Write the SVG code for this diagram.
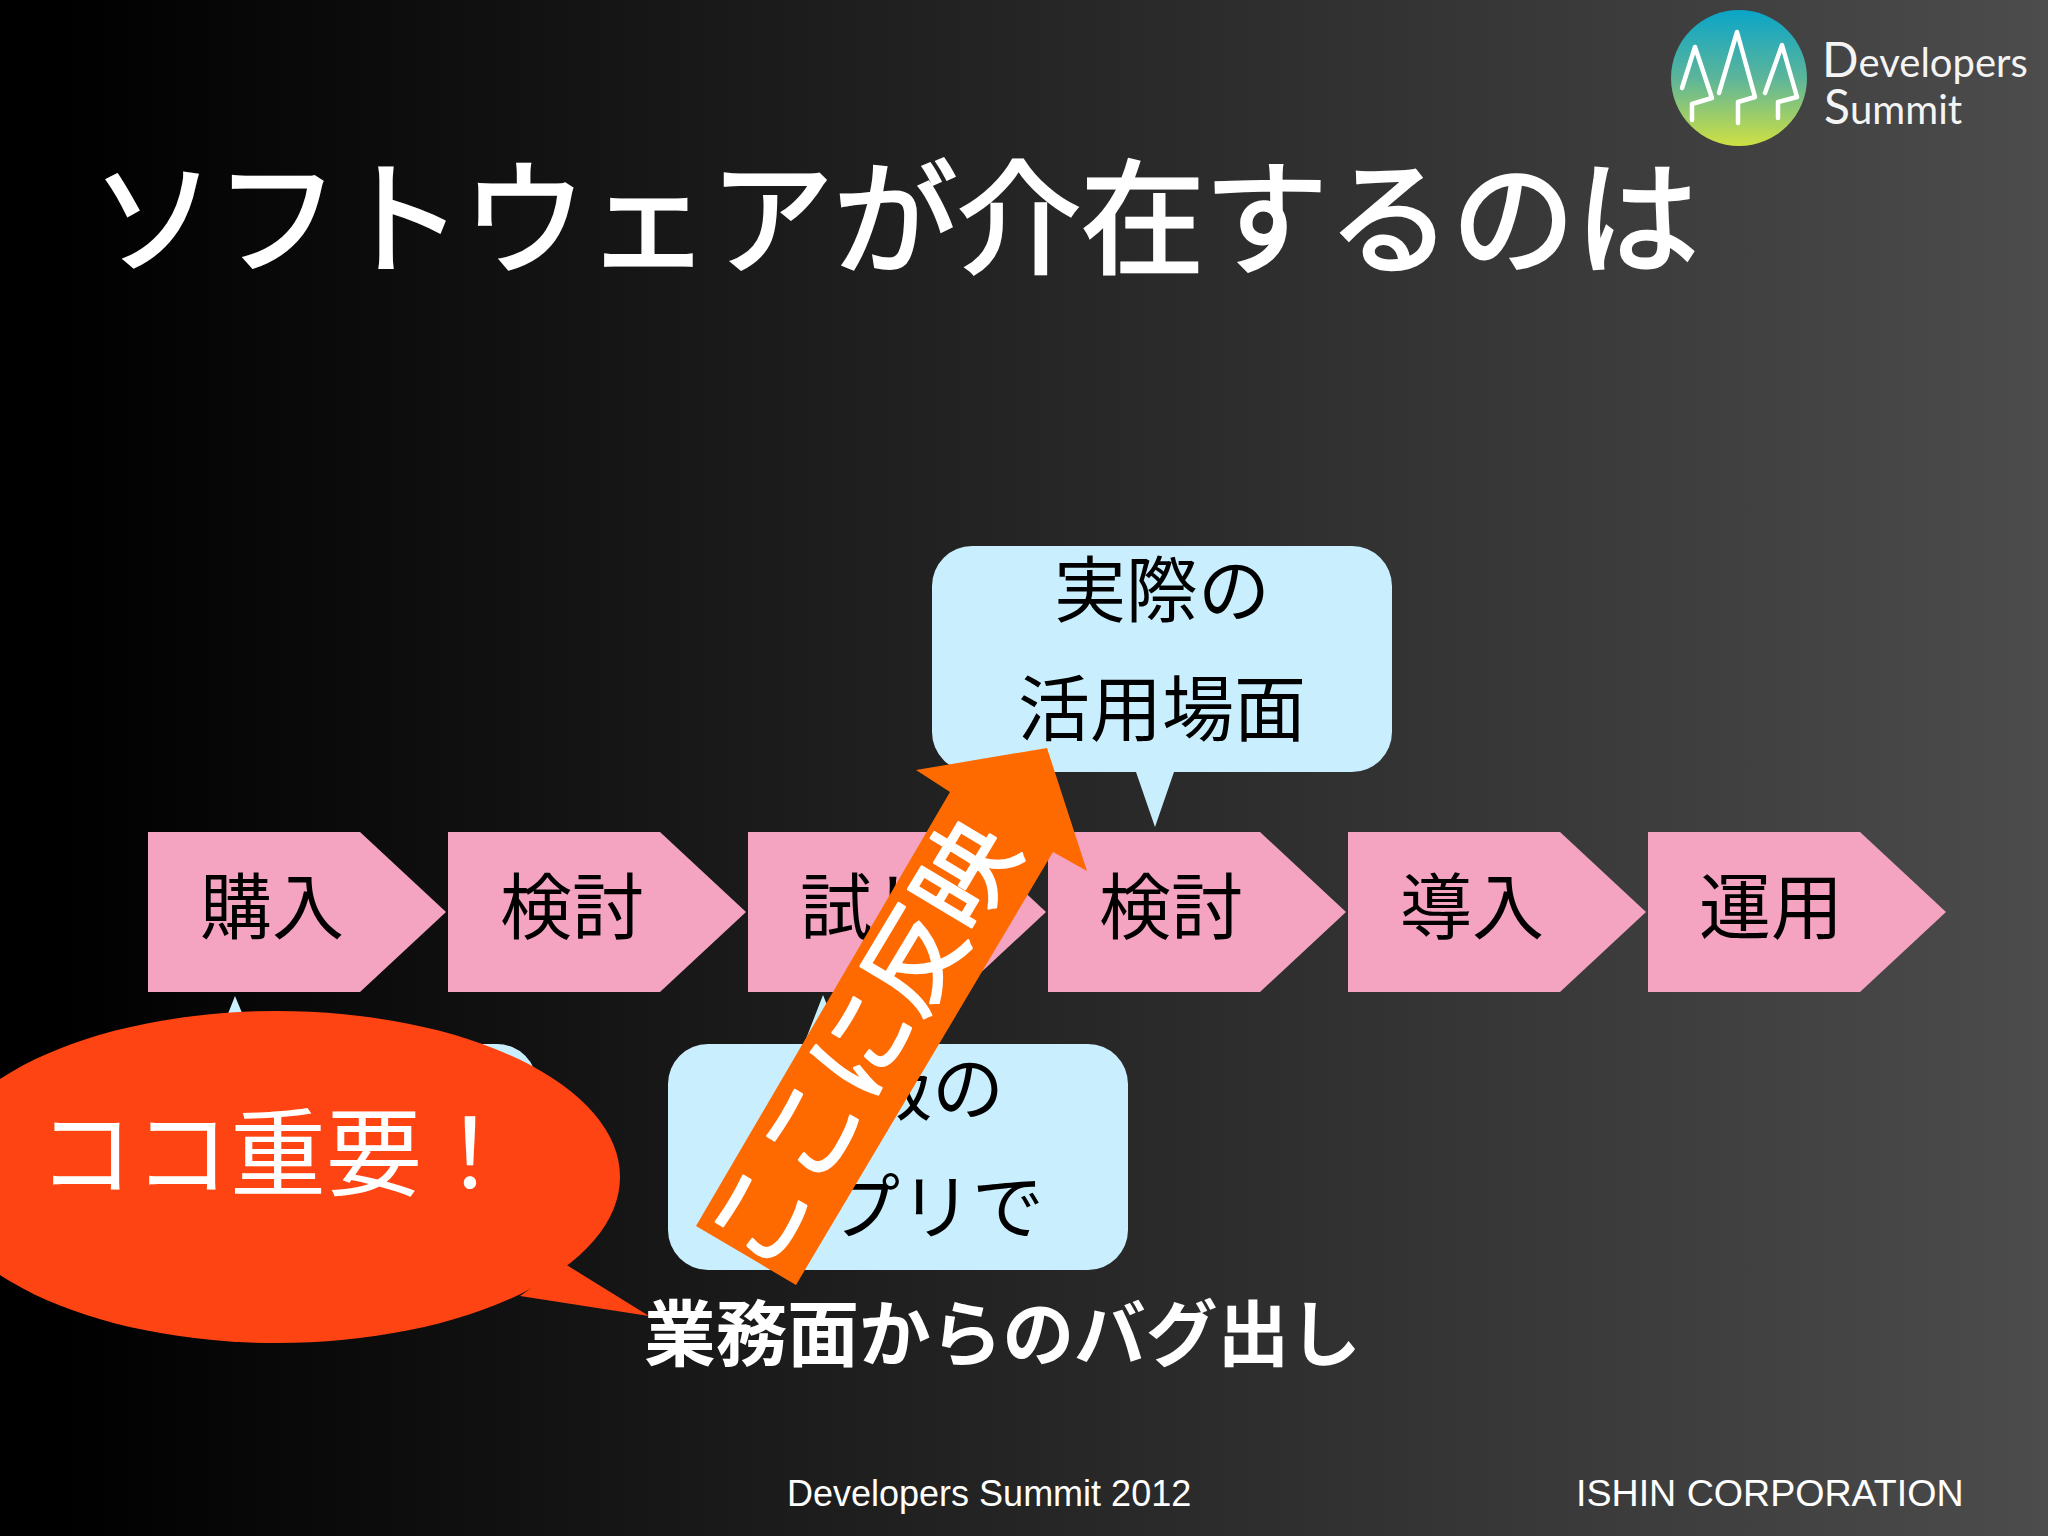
<svg xmlns="http://www.w3.org/2000/svg" width="2048" height="1536" viewBox="0 0 2048 1536">
<defs>
<linearGradient id="bg" x1="0" y1="0" x2="1" y2="0"><stop offset="0" stop-color="#000"/><stop offset="0.03" stop-color="#000"/><stop offset="1" stop-color="#4c4c4c"/></linearGradient>
<linearGradient id="logo" x1="0" y1="0" x2="0" y2="1"><stop offset="0" stop-color="#0aa5c8"/><stop offset="0.5" stop-color="#5cb59a"/><stop offset="1" stop-color="#cfe043"/></linearGradient>
</defs>
<style>
text{font-family:"Noto Sans CJK JP","Noto Sans",sans-serif}
.pink{fill:#f4a3c0}
.blue{fill:#c9effe}
.lbl{font-size:72px;fill:#000}
.foot{font-family:"Liberation Sans",Arial,sans-serif;font-size:36px;fill:#fff}
.tree{fill:none;stroke:#fff;stroke-width:4.5;stroke-linejoin:round;stroke-linecap:round}
.logot{font-family:Lato,"Liberation Sans",sans-serif;fill:#f4f4f4;font-size:40px}
</style>
<rect id="background" width="2048" height="1536" fill="url(#bg)"/>
<g id="logo-mark">
<circle cx="1739" cy="78" r="68" fill="url(#logo)"/>
<polyline class="tree" points="1682,88 1695,47 1712,98 1692,104 1692,120"/>
<polyline class="tree" points="1719,93 1737,32 1755,97 1738,102 1738,123"/>
<polyline class="tree" points="1765,93 1782,45 1797,97 1778,102 1778,118"/>
<text class="logot" x="1822" y="77"><tspan font-size="48">D</tspan>evelopers</text>
<text class="logot" x="1824" y="124"><tspan font-size="48">S</tspan>ummit</text>
</g>
<text id="title" x="92" y="264" font-size="123.6" fill="#fff" stroke="#fff" stroke-width="3">ソフトウェアが介在するのは</text>
<g id="step1"><polygon class="pink" points="148,832 360,832 446,912 360,992 148,992"/><text class="lbl" x="200" y="933">購入</text></g>
<g id="step2"><polygon class="pink" points="448,832 660,832 746,912 660,992 448,992"/><text class="lbl" x="500" y="933">検討</text></g>
<g id="step3"><polygon class="pink" points="748,832 960,832 1046,912 960,992 748,992"/><text class="lbl" x="800" y="933">試し</text></g>
<g id="step4"><polygon class="pink" points="1048,832 1260,832 1346,912 1260,992 1048,992"/><text class="lbl" x="1099" y="933">検討</text></g>
<g id="step5"><polygon class="pink" points="1348,832 1560,832 1646,912 1560,992 1348,992"/><text class="lbl" x="1400" y="933">導入</text></g>
<g id="step6"><polygon class="pink" points="1648,832 1860,832 1946,912 1860,992 1648,992"/><text class="lbl" x="1699" y="933">運用</text></g>
<g id="callout-top">
<path class="blue" d="M972,546H1352A40,40 0 0 1 1392,586V732A40,40 0 0 1 1352,772H1174L1155,827L1136,772H972A40,40 0 0 1 932,732V586A40,40 0 0 1 972,546Z"/>
<text class="lbl" x="1162" y="616" text-anchor="middle">実際の</text>
<text class="lbl" x="1162" y="735" text-anchor="middle">活用場面</text>
</g>
<g id="callout-left">
<path class="blue" d="M117,1044H216L235,996L255,1044H497A40,40 0 0 1 537,1084V1230A40,40 0 0 1 497,1270H117A40,40 0 0 1 77,1230V1084A40,40 0 0 1 117,1044Z"/>
</g>
<g id="callout-bottom">
<path class="blue" d="M708,1044H804L823,995L843,1044H1088A40,40 0 0 1 1128,1084V1230A40,40 0 0 1 1088,1270H708A40,40 0 0 1 668,1230V1084A40,40 0 0 1 708,1044Z"/>
<text class="lbl" x="1004" y="1114" text-anchor="end">版の</text>
<text class="lbl" x="1044" y="1233" text-anchor="end">プリで</text>
</g>
<g id="reflect-arrow">
<polygon fill="#ff6a00" points="1047,748 1087,871 1053,852 796,1285 696,1226 950,792 916,770"/>
<text transform="translate(764,1278) rotate(-59)" font-size="100" fill="#fff" stroke="#fff" stroke-width="2.5" stroke-linejoin="round">ここに反映</text>
</g>
<g id="important-bubble">
<ellipse cx="277" cy="1177" rx="343" ry="166" fill="#ff4413"/>
<polygon fill="#ff4413" points="565,1264 649,1316 520,1296"/>
<text x="38" y="1188" font-size="96" fill="#fff">ココ重要！</text>
</g>
<text id="bug" x="644" y="1360" font-size="71.7" font-weight="700" fill="#fff">業務面からのバグ出し</text>
<text id="footer-left" class="foot" x="787" y="1506">Developers Summit 2012</text>
<text id="footer-right" class="foot" x="1576" y="1506" style="font-size:37.6px">ISHIN CORPORATION</text>
</svg>
